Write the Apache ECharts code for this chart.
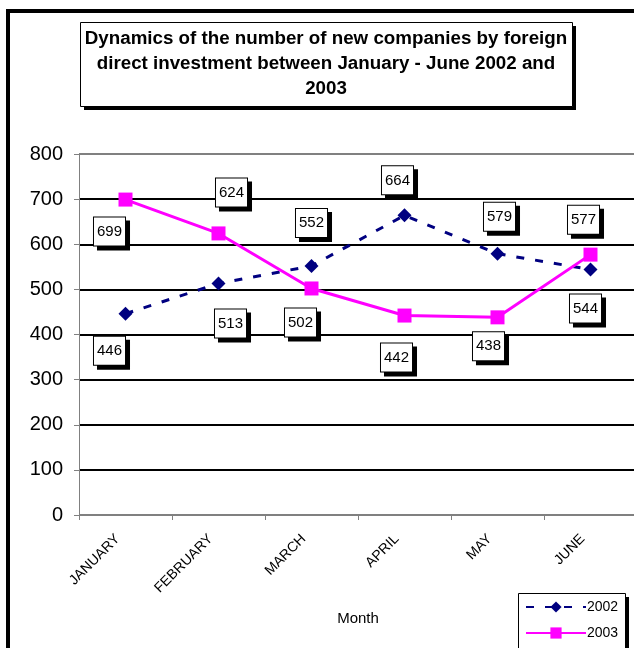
<!DOCTYPE html>
<html>
<head>
<meta charset="utf-8">
<script src="https://cdn.jsdelivr.net/npm/echarts@6/dist/echarts.min.js"></script>
<style>
html,body{margin:0;padding:0;background:#fff;}
#chart{width:634px;height:648px;}
</style>
</head>
<body>
<div id="chart"></div>
<script>
const months = ['JANUARY', 'FEBRUARY', 'MARCH', 'APRIL', 'MAY', 'JUNE'];
const values2002 = [446, 513, 552, 664, 579, 544];
const values2003 = [699, 624, 502, 442, 438, 577];
const seriesNames = ['2002', '2003'];
const titleText = 'Dynamics of the number of new companies by foreign\ndirect investment between January - June 2002 and\n2003';
const xAxisName = 'Month';

// label placement offsets (px) relative to each point
const labelOffsets2002 = [[-16, 37], [12, 40], [0, -43], [-7, -35], [2, -37], [-5, 39]];
const labelOffsets2003 = [[-16, 32], [13, -41], [-11, 34], [-8, 42], [-9, 29], [-7, -35]];

const FONT = '"Liberation Sans", Arial, sans-serif';

const labelBase = {
  show: true,
  position: 'inside',
  color: '#000',
  fontFamily: FONT,
  fontSize: 15,
  lineHeight: 17,
  backgroundColor: '#fff',
  borderColor: '#000',
  borderWidth: 1,
  padding: [6, 3, 5, 3],
  shadowColor: '#000',
  shadowBlur: 0,
  shadowOffsetX: 4,
  shadowOffsetY: 4
};

function buildData(values, offsets) {
  return values.map((v, i) => ({
    value: v,
    label: Object.assign({}, labelBase, { offset: offsets[i] })
  }));
}

function shadowBox(x, y, w, h, z) {
  return [
    { type: 'rect', z: z, silent: true, shape: { x: x + 4, y: y + 4, width: w, height: h }, style: { fill: '#000' } },
    { type: 'rect', z: z, silent: true, shape: { x: x + 0.5, y: y + 0.5, width: w, height: h }, style: { fill: '#fff', stroke: '#000', lineWidth: 1 } }
  ];
}

const chart = echarts.init(document.getElementById('chart'), null, { renderer: 'canvas' });

const gridColors = ['#808080', '#000', '#000', '#000', '#000', '#000', '#000', '#000', '#808080'];

chart.setOption({
  animation: false,
  backgroundColor: '#fff',
  textStyle: { fontFamily: FONT },
  graphic: [
    {
      type: 'rect',
      z: 0,
      silent: true,
      shape: { x: 8, y: 11, width: 700, height: 700 },
      style: { fill: 'none', stroke: '#000', lineWidth: 4 }
    }
  ].concat(shadowBox(80, 22, 492, 84, 10)).concat([
    {
      type: 'text',
      z: 11,
      x: 326,
      y: 26,
      silent: true,
      style: {
        text: titleText,
        fill: '#000',
        font: 'bold 18.75px ' + FONT,
        lineHeight: 25,
        align: 'center',
        verticalAlign: 'top'
      }
    }
  ]).concat(shadowBox(518, 593, 107, 80, 1)),
  legend: {
    data: seriesNames,
    orient: 'vertical',
    left: 518,
    top: 593,
    z: 5,
    padding: [7, 6, 8, 7],
    itemWidth: 60,
    itemHeight: 14,
    itemGap: 12,
    textStyle: { fontSize: 14, color: '#000', fontFamily: FONT, padding: [0, 0, 0, -4] }
  },
  grid: {
    left: 79,
    right: -3,
    top: 154,
    bottom: 133,
    containLabel: false,
    outerBoundsMode: 'none'
  },
  xAxis: {
    type: 'category',
    data: months,
    boundaryGap: true,
    name: xAxisName,
    nameLocation: 'middle',
    nameGap: 96,
    nameTextStyle: { fontSize: 15, color: '#000', fontFamily: FONT },
    axisLine: { lineStyle: { color: '#808080', width: 1 } },
    axisTick: { show: true, length: 5, lineStyle: { color: '#808080' } },
    axisLabel: { rotate: 45, fontSize: 14, color: '#000', margin: 14, padding: [0, 11, 0, 0], fontFamily: FONT, interval: 0 }
  },
  yAxis: {
    type: 'value',
    min: 0,
    max: 800,
    interval: 100,
    axisLine: { show: true, lineStyle: { color: '#808080', width: 1 } },
    axisTick: { show: true, length: 5, lineStyle: { color: '#808080' } },
    axisLabel: { fontSize: 20, color: '#000', margin: 16, fontFamily: FONT },
    splitLine: { show: true, lineStyle: { color: gridColors, width: 2 } }
  },
  series: [
    {
      name: seriesNames[0],
      type: 'line',
      data: buildData(values2002, labelOffsets2002),
      symbol: 'diamond',
      symbolSize: 14,
      itemStyle: { color: '#000080' },
      lineStyle: { color: '#000080', width: 3, type: [8, 11] },
      z: 3
    },
    {
      name: seriesNames[1],
      type: 'line',
      data: buildData(values2003, labelOffsets2003),
      symbol: 'rect',
      symbolSize: 14,
      itemStyle: { color: '#FF00FF' },
      lineStyle: { color: '#FF00FF', width: 3 },
      z: 4
    }
  ]
});
</script>
</body>
</html>
